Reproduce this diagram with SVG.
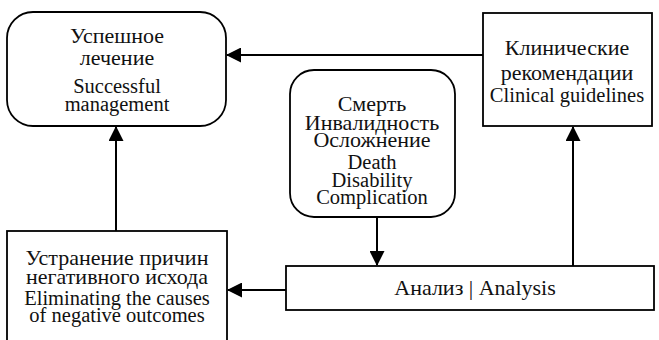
<svg xmlns="http://www.w3.org/2000/svg" width="659" height="340" viewBox="0 0 659 340">
<defs>
<marker id="ah" markerWidth="15" markerHeight="15" refX="14" refY="7.5" orient="auto" markerUnits="userSpaceOnUse">
<path d="M0,0 L15,7.5 L0,15 Z" fill="#000"/>
</marker>
<style>
.box{fill:#fff;stroke:#000;stroke-width:1.8}
.ru{font-family:"Liberation Serif","Times New Roman",serif;font-size:22px;fill:#111;text-anchor:middle}
.en{font-family:"Liberation Serif","Times New Roman",serif;font-size:20.5px;fill:#111;text-anchor:middle}
.ln{stroke:#000;stroke-width:2;fill:none}
</style>
</defs>
<rect width="659" height="340" fill="#fff"/>
<g id="connectors">
<line class="ln" x1="483" y1="55" x2="227" y2="55" marker-end="url(#ah)"/>
<line class="ln" x1="377" y1="217" x2="377" y2="265" marker-end="url(#ah)"/>
<line class="ln" x1="573" y1="266" x2="573" y2="127" marker-end="url(#ah)"/>
<line class="ln" x1="286" y1="290" x2="228" y2="290" marker-end="url(#ah)"/>
<line class="ln" x1="116" y1="231" x2="116" y2="127" marker-end="url(#ah)"/>
</g>
<g id="success">
<rect class="box" x="7" y="12" width="219" height="114" rx="26"/>
<text class="ru" x="117" y="43">Успешное</text>
<text class="ru" x="117" y="65">лечение</text>
<text class="en" x="117" y="93">Successful</text>
<text class="en" x="117" y="111">management</text>
</g>
<g id="guidelines">
<rect class="box" x="483" y="13" width="169" height="113"/>
<text class="ru" x="567" y="55">Клинические</text>
<text class="ru" x="567" y="80">рекомендации</text>
<text class="en" x="567" y="102">Clinical guidelines</text>
</g>
<g id="outcome">
<rect class="box" x="290" y="70" width="165" height="147" rx="24"/>
<text class="ru" x="372" y="111">Смерть</text>
<text class="ru" x="372" y="130">Инвалидность</text>
<text class="ru" x="372" y="147">Осложнение</text>
<text class="en" x="372" y="169">Death</text>
<text class="en" x="372" y="187">Disability</text>
<text class="en" x="372" y="204">Complication</text>
</g>
<g id="analysis">
<rect class="box" x="286" y="266" width="368" height="44"/>
<text class="ru" x="475" y="295">Анализ | Analysis</text>
</g>
<g id="eliminate">
<rect class="box" x="7" y="231" width="220" height="110"/>
<text class="ru" x="117" y="265">Устранение причин</text>
<text class="ru" x="117" y="284">негативного исхода</text>
<text class="en" x="117" y="305">Eliminating the causes</text>
<text class="en" x="117" y="322">of negative outcomes</text>
</g>
</svg>
